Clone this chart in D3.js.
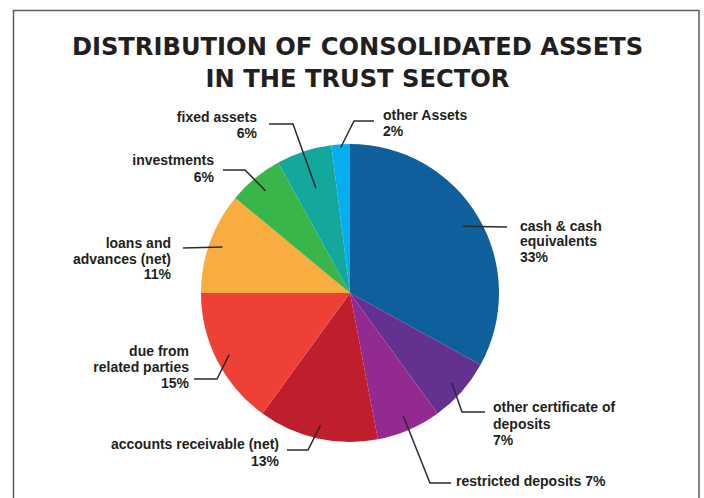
<!DOCTYPE html>
<html>
<head>
<meta charset="utf-8">
<script src="https://cdn.jsdelivr.net/npm/d3@7"></script>
<style>
  html, body { margin: 0; padding: 0; background: #fff; }
  svg { display: block; }
</style>
</head>
<body>
<div id="chart"></div>
<script>
// Shares of consolidated assets, clockwise from 12 o'clock
const categories = [
  "cash & cash equivalents",
  "other certificate of deposits",
  "restricted deposits",
  "accounts receivable (net)",
  "due from related parties",
  "loans and advances (net)",
  "investments",
  "fixed assets",
  "other Assets"
];
const shares = [33, 7, 7, 13, 15, 11, 6, 6, 2];
const colors = ["#0f5f9d", "#643190", "#932a8f", "#bf1e2e", "#ee4037",
                "#f9ac40", "#3ab54a", "#14a79d", "#04aeef"];

// Label text lines (percent appended when drawn)
const labelLines = [
  ["cash & cash", "equivalents", "{p}"],
  ["other certificate of", "deposits", "{p}"],
  ["restricted deposits {p}"],
  ["accounts receivable (net)", "{p}"],
  ["due from", "related parties", "{p}"],
  ["loans and", "advances (net)", "{p}"],
  ["investments", "{p}"],
  ["fixed assets", "{p}"],
  ["other Assets", "{p}"]
];

const W = 704, H = 498;
const cx = 350, cy = 293, R = 149;

// Callout layout: radius fraction for the leader anchor, leader bends, text anchor
const callouts = [
  { rf: 0.88, pts: [[507, 227]], tx: 520, ty: 231, anchor: "start", lh: 15.4 },
  { rf: 0.91, pts: [[462, 412], [485, 412]], tx: 493, ty: 412, anchor: "start", lh: 16.5 },
  { rf: 0.90, pts: [[430, 483], [451, 483]], tx: 456, ty: 486, anchor: "start", lh: 16 },
  { rf: 0.91, pts: [[308, 450], [287, 450]], tx: 279, ty: 449, anchor: "end", lh: 16.5 },
  { rf: 0.91, pts: [[217, 379], [194, 379]], tx: 189, ty: 356, anchor: "end", lh: 15.8 },
  { rf: 0.91, pts: [[183, 248]], tx: 171, ty: 248, anchor: "end", lh: 15.5 },
  { rf: 0.89, pts: [[245, 170], [223, 170]], tx: 214, ty: 165, anchor: "end", lh: 16.5 },
  { rf: 0.74, pts: [[293, 124], [269, 124]], tx: 257, ty: 122, anchor: "end", lh: 16 },
  { rf: 0.98, pts: [[354, 121], [374, 121]], tx: 383, ty: 120, anchor: "start", lh: 16 }
];

const svg = d3.select("#chart").append("svg")
  .attr("width", W).attr("height", H);

// Frame
svg.append("path")
  .attr("d", `M13.5,${H + 2} V10.5 H699 V${H + 2}`)
  .attr("fill", "none")
  .attr("stroke", "#5e5e5e")
  .attr("stroke-width", 1.5);

// Title
const title = svg.append("text")
  .attr("text-anchor", "middle")
  .attr("font-family", "'DejaVu Sans', sans-serif")
  .attr("font-weight", "bold")
  .attr("font-size", 24.2)
  .attr("fill", "#231f20");
title.append("tspan").attr("x", 357.5).attr("y", 55).text("DISTRIBUTION OF CONSOLIDATED ASSETS");
title.append("tspan").attr("x", 357.5).attr("y", 87).text("IN THE TRUST SECTOR");

const data = categories.map((c, i) => ({ name: c, value: shares[i], color: colors[i], i }));

const pie = d3.pie().sort(null).value(d => d.value).startAngle(0).endAngle(2 * Math.PI);
const arc = d3.arc().innerRadius(0).outerRadius(R);
const arcs = pie(data);

const g = svg.append("g").attr("transform", `translate(${cx},${cy})`);

g.selectAll("path.slice")
  .data(arcs)
  .join("path")
  .attr("class", "slice")
  .attr("d", arc)
  .attr("fill", d => d.data.color);

// Leader lines
const line = d3.line();
arcs.forEach((a, i) => {
  const c = callouts[i];
  const mid = (a.startAngle + a.endAngle) / 2;
  const r = R * c.rf;
  const ax = cx + r * Math.sin(mid);
  const ay = cy - r * Math.cos(mid);
  svg.append("path")
    .attr("d", line([[ax, ay], ...c.pts]))
    .attr("fill", "none")
    .attr("stroke", "#2b2b2b")
    .attr("stroke-width", 1.5);
});

// Labels
arcs.forEach((a, i) => {
  const c = callouts[i];
  const pct = a.data.value + "%";
  const t = svg.append("text")
    .attr("text-anchor", c.anchor)
    .attr("font-family", "'Liberation Sans', Arial, sans-serif")
    .attr("font-weight", "bold")
    .attr("font-size", 14)
    .attr("fill", "#231f20");
  labelLines[i].forEach((ln, k) => {
    t.append("tspan")
      .attr("x", c.tx)
      .attr("y", c.ty + k * c.lh)
      .text(ln.replace("{p}", pct));
  });
});
</script>
</body>
</html>
